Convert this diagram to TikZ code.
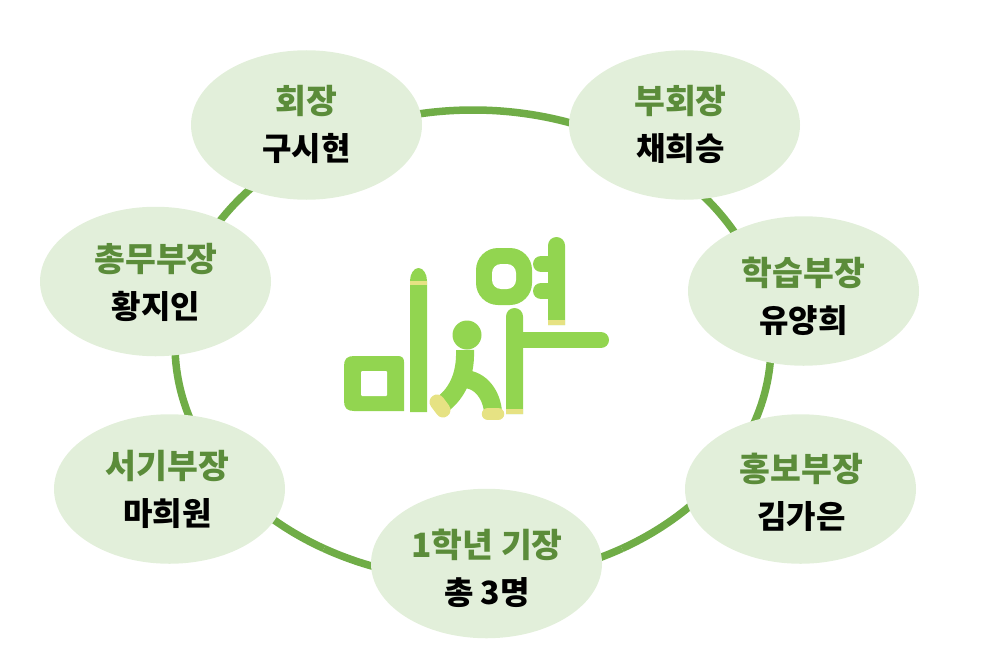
\documentclass[tikz,border=0pt]{standalone}
\usepackage{fontspec}
\setmainfont{Noto Sans CJK KR}
\usetikzlibrary{shapes.geometric,calc}
\definecolor{ringgreen}{HTML}{70AD47}
\definecolor{palegreen}{HTML}{E2EFDA}
\definecolor{titlegreen}{HTML}{5B8C3A}
\definecolor{logogreen}{HTML}{92D550}
\definecolor{logoyellow}{HTML}{E6E283}
\tikzset{
  x=1pt,y=-1pt,
  member/.style={ellipse,fill=palegreen,inner sep=0pt,minimum width=231pt,minimum height=149.5pt},
  membertext/.style={inner sep=0pt,align=center,font=\fontsize{32}{47}\selectfont\bfseries},
  ringline/.style={draw=ringgreen,line width=7.5pt},
  logo/.style={fill=logogreen},
  logoband/.style={fill=logoyellow},
  logostroke/.style={draw=logogreen,line width=18pt,line cap=round},
}
\newcommand{\rolename}[1]{\textcolor{titlegreen}{\fontsize{33.5}{47}\selectfont #1}}
\begin{document}
\begin{tikzpicture}
\useasboundingbox (0,0) rectangle (981,666);
\coordinate (ringc) at (473,345);
% ring arcs between anchor points hidden behind the ovals (y axis points down)
\coordinate (ringa) at ($(ringc)+(120:298 and 235)$);
\coordinate (ringb) at ($(ringc)+(60:298 and 235)$);
\coordinate (ringd) at ($(ringc)+(25:298 and 235)$);
\coordinate (ringe) at ($(ringc)+(-25:298 and 235)$);
\coordinate (ringf) at ($(ringc)+(-65:298 and 235)$);
\coordinate (ringg) at ($(ringc)+(-115:298 and 235)$);
\coordinate (ringh) at ($(ringc)+(-155:298 and 235)$);
\coordinate (ringi) at ($(ringc)+(160:298 and 235)$);
\draw[ringline] (ringa) arc[start angle=120,end angle=60,x radius=298,y radius=235];
\draw[ringline] (ringb) arc[start angle=60,end angle=25,x radius=298,y radius=235];
\draw[ringline] (ringd) arc[start angle=25,end angle=-25,x radius=298,y radius=235];
\draw[ringline] (ringe) arc[start angle=-25,end angle=-65,x radius=298,y radius=235];
\draw[ringline] (ringf) arc[start angle=-65,end angle=-115,x radius=298,y radius=235];
\draw[ringline] (ringg) arc[start angle=-115,end angle=-155,x radius=298,y radius=235];
\draw[ringline] (ringh) arc[start angle=-155,end angle=-200,x radius=298,y radius=235];
\draw[ringline] (ringi) arc[start angle=160,end angle=120,x radius=298,y radius=235];
% member ovals
\node[member] (president) at (306.5,125) {};
\node[member] (vice) at (684.5,125) {};
\node[member] (study) at (803.5,291) {};
\node[member] (promo) at (800.5,489) {};
\node[member] (first) at (486.5,563.5) {};
\node[member] (clerk) at (169.5,489) {};
\node[member] (general) at (155.5,281.5) {};
% member texts
\node[membertext] (presidenttext) at (306.5,124) {\rolename{회장}\\구시현};
\node[membertext] (vicetext) at (680.5,124) {\rolename{부회장}\\채희승};
\node[membertext] (studytext) at (803.5,296) {\rolename{학습부장}\\유양희};
\node[membertext] (promotext) at (801.5,492) {\rolename{홍보부장}\\김가은};
\node[membertext] (firsttext) at (487,568) {\rolename{1학년 기장}\\총 3명};
\node[membertext] (clerktext) at (167.5,489) {\rolename{서기부장}\\마희원};
\node[membertext] (generaltext) at (156,282.5) {\rolename{총무부장}\\황지인};
% logo: mi
\fill[logo] (404,411) -- (354,411) .. controls (347,411) and (344,408) .. (344,401)
  -- (344,366) .. controls (344,359) and (347,356) .. (354,356)
  -- (398,356) .. controls (402,356) and (404,358) .. (404,362) -- cycle;
\fill[white,rounded corners=1pt] (361,371) rectangle (387,396);
\fill[logo] (410,412) -- (410,281) arc[start angle=180,end angle=0,x radius=8.5,y radius=-13] -- (427,412) -- cycle;
\fill[logoband] (410,281) rectangle (427,285);
% logo: s
\fill[logo] (467,335) circle (14.5);
\draw[logostroke,line cap=butt] (465,350) .. controls (466,378) and (455,396) .. (440,406);
\draw[logostroke,line cap=butt] (463,379) .. controls (482,379) and (492,397) .. (493,412);
\draw[logostroke,draw=logoyellow,line width=15pt,line cap=round] (437,402) -- (443,410);
\draw[logostroke,draw=logoyellow,line width=12.5pt,line cap=round] (488,414) -- (498,414);
% logo: a
\fill[logo] (506,414) -- (506,316.5) arc[start angle=180,end angle=0,x radius=8.5,y radius=-8.5] -- (523,414) -- cycle;
\fill[logoband] (506,409) rectangle (523,414);
\draw[logostroke,line width=16pt] (515,340) -- (601,340);
% logo: yeo
\fill[logo,rounded corners=22pt] (476,248) rectangle (532,305);
\fill[white,rounded corners=9pt] (492,264) rectangle (516,289);
\fill[logo] (548,325) -- (548,245.5) arc[start angle=180,end angle=0,x radius=8.5,y radius=-8.5] -- (565,325) -- cycle;
\fill[logoband] (548,320) rectangle (565,325);
\draw[logostroke,line width=16pt] (541,264) -- (552,264);
\draw[logostroke,line width=16pt] (541,291) -- (552,291);
\end{tikzpicture}
\end{document}
